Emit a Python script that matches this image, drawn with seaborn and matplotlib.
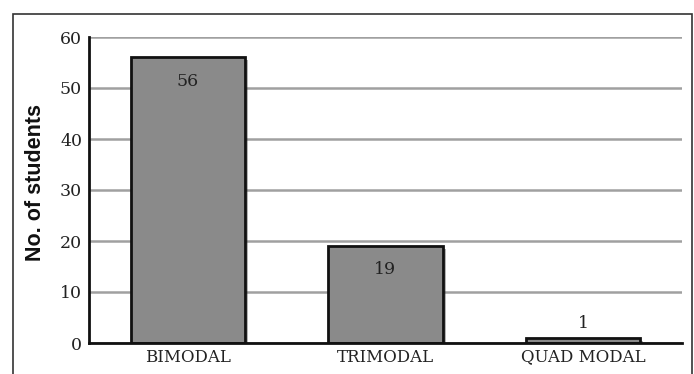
import matplotlib
matplotlib.use("Agg")
import matplotlib.pyplot as plt
import matplotlib.patheffects as pe
from matplotlib.patches import Rectangle
import seaborn as sns
import pandas as pd

categories = ["BIMODAL", "TRIMODAL", "QUAD MODAL"]
students = [56, 19, 1]
y_ticks = [0, 10, 20, 30, 40, 50, 60]

df = pd.DataFrame({"mode": categories, "count": students})

sns.set_theme(style="white")
plt.rcParams["font.family"] = ["DejaVu Serif"]

W, H = 694, 374
fig = plt.figure(figsize=(W / 100, H / 100), dpi=100)
ax = fig.add_axes([89 / W, 1 - 343 / H, (682 - 89) / W, (343 - 37) / H])

sns.barplot(data=df, x="mode", y="count", ax=ax, color="#8a8a8a",
            saturation=1, width=0.58, edgecolor="#111111", linewidth=2.0,
            zorder=3)

for p in ax.patches:
    p.set_path_effects([pe.SimplePatchShadow(offset=(2, -2), alpha=0.35),
                        pe.Normal()])

ax.set_ylim(0, 60)
ax.set_yticks(y_ticks)
ax.set_xlim(-0.5, 2.5)
ax.grid(axis="y", color="#a0a0a0", linewidth=1.8, zorder=0)
ax.set_axisbelow(True)

for s in ["top", "right"]:
    ax.spines[s].set_visible(False)
for s in ["left", "bottom"]:
    ax.spines[s].set_color("#111111")
    ax.spines[s].set_linewidth(2.0)
    ax.spines[s].set_zorder(4)

ax.tick_params(axis="y", labelsize=12.5, colors="#222222", length=0, pad=5)
ax.tick_params(axis="x", labelsize=12, colors="#222222", length=0, pad=4)
ax.set_xlabel("")
ax.set_ylabel("No. of students", fontsize=15.5, fontweight="bold",
              family=["Liberation Sans", "DejaVu Sans"], color="#111111")
ax.yaxis.set_label_coords(-0.072, 0.523)

# value labels: inside the top of tall bars, above short ones
for i, v in enumerate(students):
    if v >= 5:
        ax.annotate(str(v), (i, v), xytext=(0, -11), textcoords="offset points",
                    ha="center", va="top", fontsize=12.5, color="#222222")
    else:
        ax.annotate(str(v), (i, v), xytext=(0, 4), textcoords="offset points",
                    ha="center", va="bottom", fontsize=12.5, color="#222222")

# outer chart frame (continues below the visible area)
fig.add_artist(Rectangle((13 / W, -0.2), (692 - 13) / W, 1 - 14 / H + 0.2,
                         transform=fig.transFigure, fill=False,
                         edgecolor="#333333", linewidth=1.2))

fig.savefig("out.png", dpi=100, facecolor="white")
